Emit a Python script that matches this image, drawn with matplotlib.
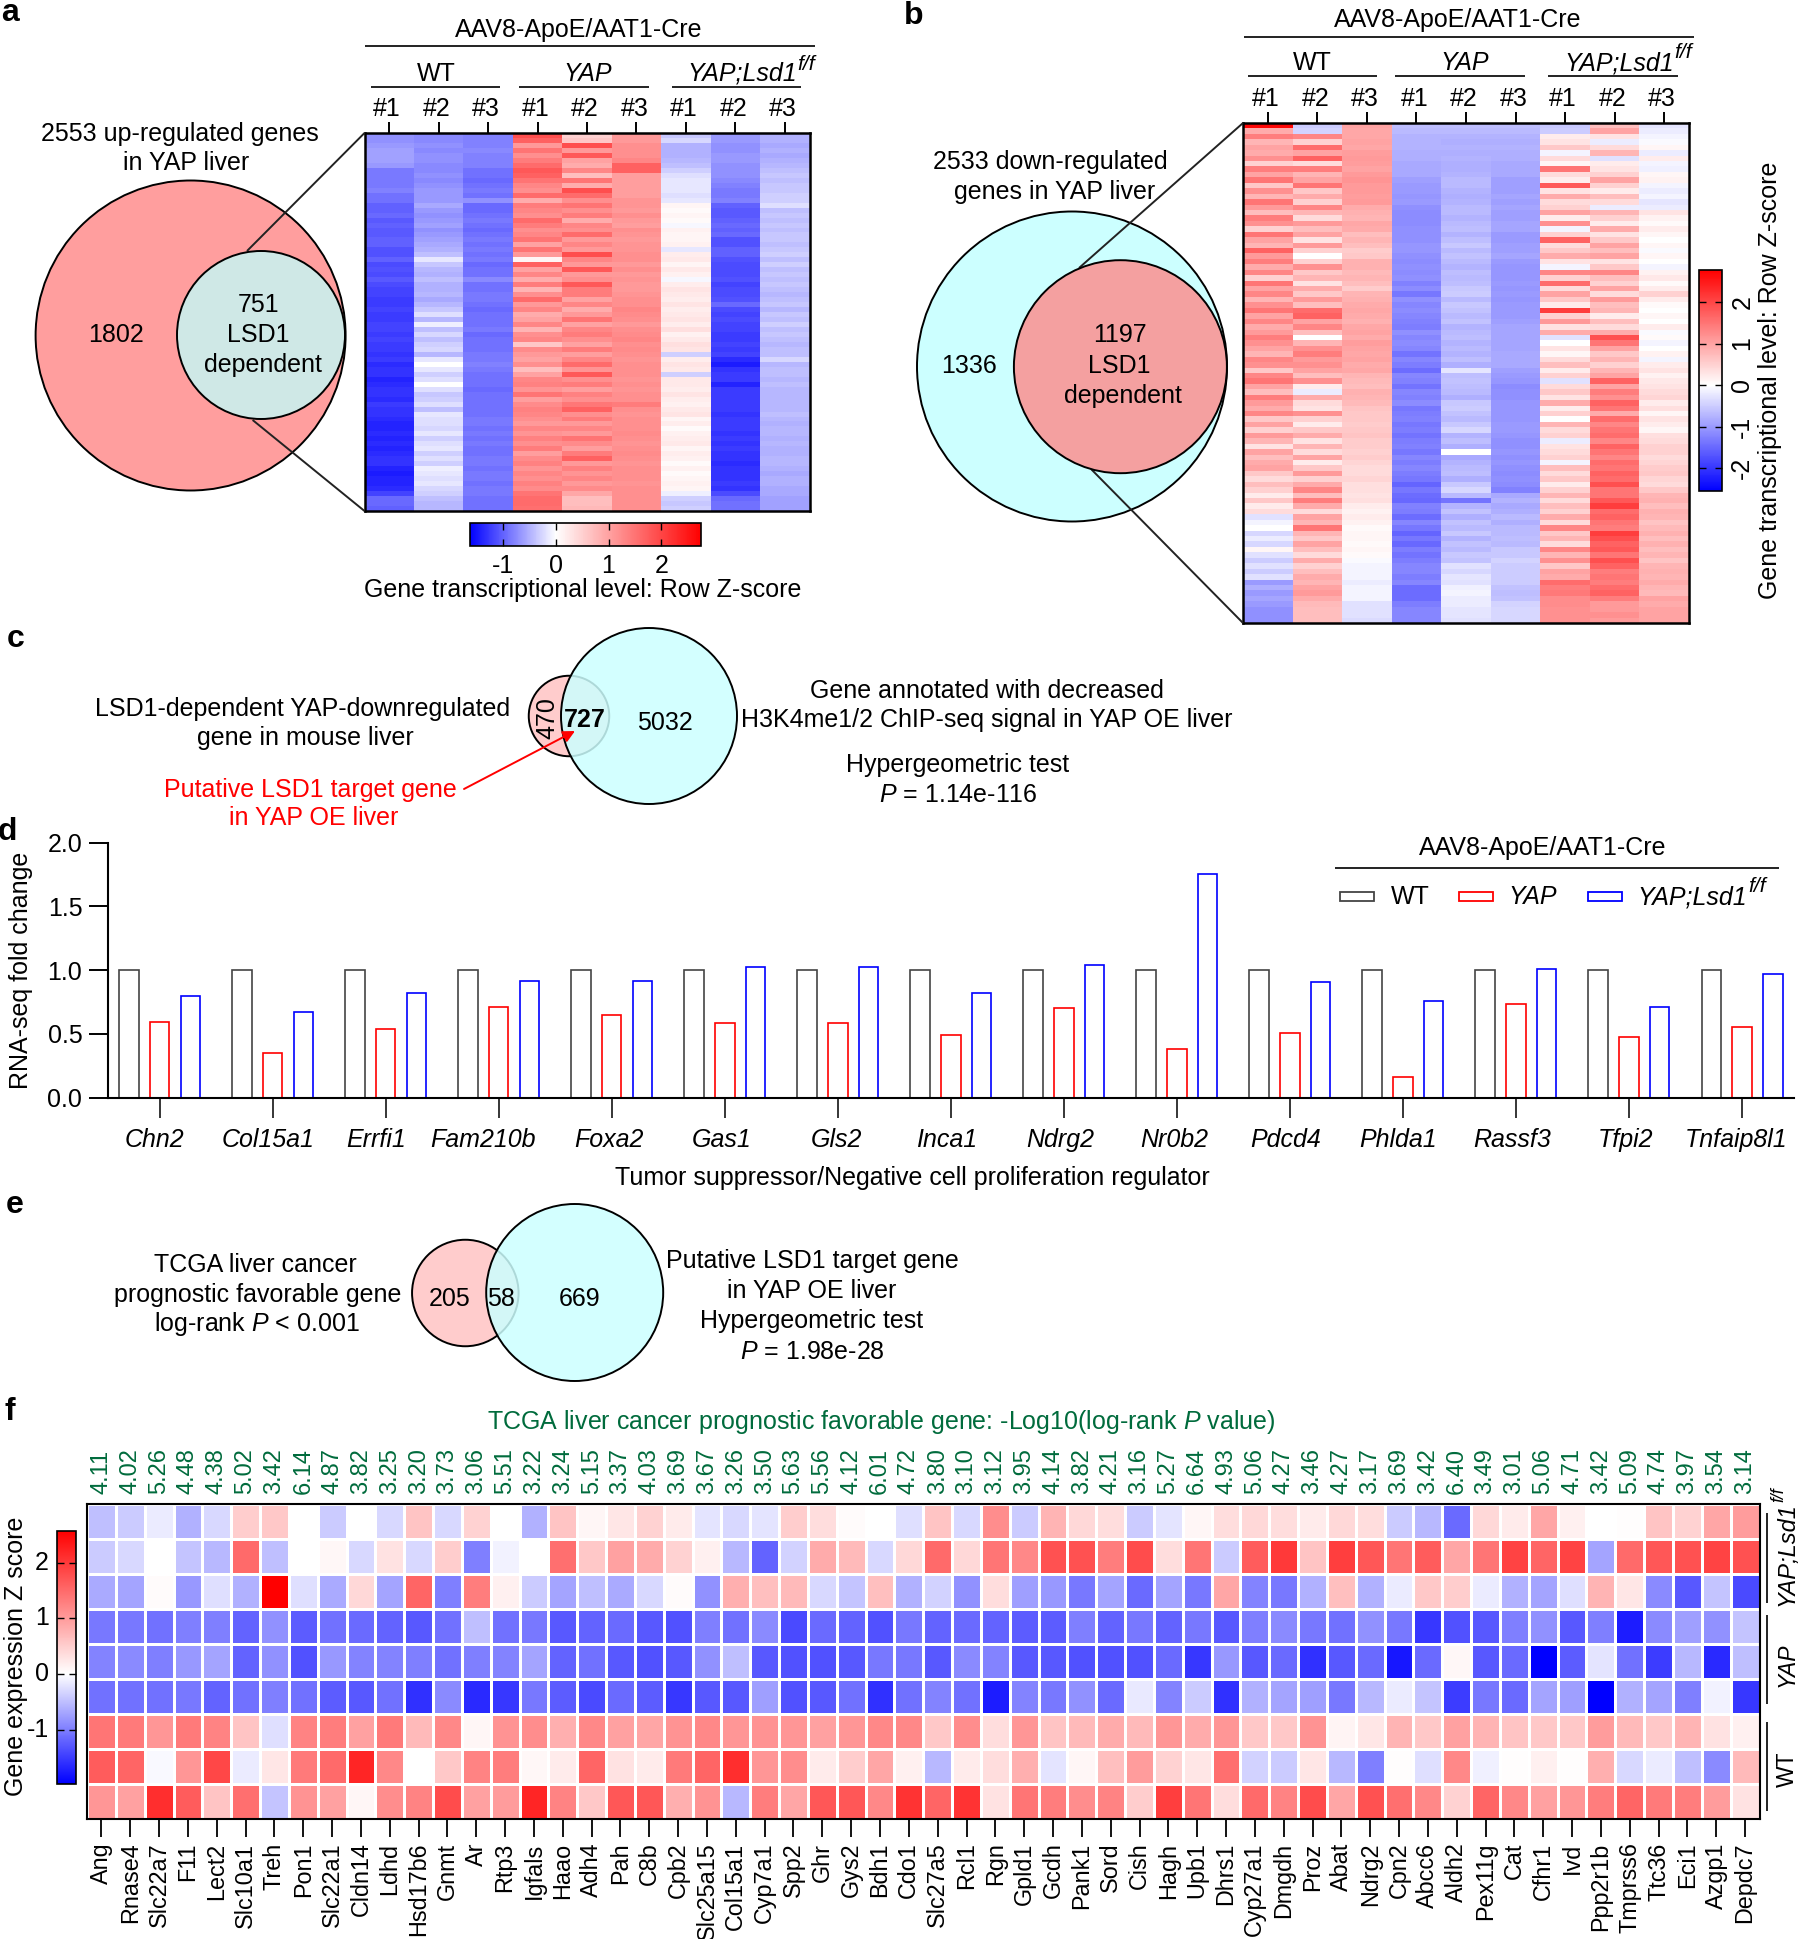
import matplotlib
matplotlib.use("Agg")
import numpy as np
import matplotlib.pyplot as plt
from matplotlib.colors import LinearSegmentedColormap, Normalize
from matplotlib.cm import ScalarMappable
from matplotlib.patches import Circle, Rectangle
from matplotlib.transforms import ScaledTranslation

plt.rcParams['font.family'] = ['Liberation Sans', 'DejaVu Sans']
plt.rcParams['mathtext.fontset'] = 'custom'
plt.rcParams['mathtext.rm'] = 'Liberation Sans'
plt.rcParams['mathtext.it'] = 'Liberation Sans:italic'
plt.rcParams['mathtext.bf'] = 'Liberation Sans:bold'
plt.rcParams['axes.unicode_minus'] = False

# ---------- data ----------
sample_labels = ['#1', '#2', '#3'] * 3

heat_a = [
 [-.7,-.75,-.8,1.9,.5,1.1,-.35,-.65,-.5],[-.7,-.75,-.8,1.7,.6,1.1,-.25,-.65,-.5],
 [-.65,-.7,-.8,1.1,1.9,1.2,-.5,-.7,-.55],[-.6,-.75,-.75,1.5,1.1,1.2,-.5,-.7,-.5],
 [-.6,-.7,-.8,1.2,1.8,1.2,-.5,-.65,-.55],[-.6,-.7,-.8,1.4,1.0,1.3,-.45,-.65,-.5],
 [-.65,-.75,-.8,1.6,.9,1.7,-.4,-.7,-.45],[-.85,-.75,-.9,1.8,1.3,1.7,-.3,-.7,-.4],
 [-.85,-.7,-.9,1.7,.7,1.05,-.2,-.7,-.35],[-.85,-.75,-.95,1.5,1.5,1.05,-.15,-.75,-.4],
 [-.85,-.7,-.9,1.3,.9,1.05,-.15,-.8,-.35],[-.8,-.65,-.85,1.2,1.9,1.05,-.15,-.85,-.35],
 [-.9,-.65,-.9,1.6,1.6,1.05,-.2,-.85,-.3],[-.9,-.65,-.7,.9,1.2,1.15,-.15,-.8,-.3],
 [-1.0,-.55,-.95,1.4,1.5,1.15,.1,-1.,-.2],[-1.0,-.65,-.95,1.3,1.2,1.1,.05,-1.05,-.4],
 [-.95,-.7,-.9,1.2,1.4,1.2,.1,-1.05,-.35],[-1.05,-.65,-.85,1.6,.9,1.1,.05,-1.0,-.4],
 [-1.0,-.6,-.9,1.4,1.3,1.05,-.05,-.95,-.35],[-1.05,-.7,-.95,1.2,1.2,1.2,.15,-1.0,-.4],
 [-1.05,-.65,-.9,1.3,1.6,1.15,.1,-.95,-.35],[-1.0,-.6,-.85,1.5,1.1,1.1,.1,-1.1,-.35],
 [-1.0,-.55,-.9,1.0,1.3,1.15,.15,-1.1,-.4],[-1.1,-.5,-.85,1.5,1.1,1.15,-.15,-1.0,-.35],
 [-1.1,-.4,-.9,1.1,1.9,1.2,.2,-1.0,-.3],[-1.0,-.15,-.85,.1,1.3,1.2,.25,-1.1,-.4],
 [-1.15,-.35,-.95,1.7,1.1,1.1,.1,-1.15,-.3],[-1.1,-.45,-.9,1.0,1.8,1.2,.25,-1.15,-.4],
 [-1.15,-.5,-.9,1.3,1.1,1.1,.15,-1.15,-.35],[-1.05,-.4,-.75,.9,1.2,1.15,-.05,-1.1,-.4],
 [-1.15,-.5,-.9,1.4,1.8,1.1,.2,-1.2,-.35],[-1.2,-.5,-.9,.8,1.4,1.1,.3,-1.15,-.4],
 [-1.2,-.45,-.85,1.2,1.4,1.15,.25,-1.15,-.45],[-1.25,-.55,-.85,1.6,1.0,1.2,.2,-1.1,-.4],
 [-1.25,-.45,-.9,1.1,1.3,1.2,.3,-.95,-.35],[-1.2,-.35,-.95,1.3,.9,1.3,.2,-1.15,-.45],
 [-1.25,-.2,-.9,.9,1.1,1.25,.25,-1.2,-.35],[-1.25,-.45,-.9,1.0,1.5,1.2,.3,-1.15,-.4],
 [-1.2,-.1,-.9,1.3,1.0,1.1,.2,-1.2,-.3],[-1.2,-.4,-.85,.8,1.3,1.2,.35,-1.2,-.4],
 [-1.25,-.25,-.95,1.2,1.4,1.25,.15,-1.25,-.35],[-1.2,-.4,-.9,1.3,1.2,1.3,.25,-1.25,-.4],
 [-1.25,-.3,-.9,.6,1.0,1.2,.35,-1.2,-.45],[-1.25,-.25,-.9,1.25,1.4,1.25,.3,-1.25,-.4],
 [-1.3,-.45,-.85,1.1,1.05,1.2,-.3,-1.2,-.4],[-1.25,-.15,-.85,1.0,1.3,1.15,.2,-1.35,-.25],
 [-1.35,.0,-.8,1.2,1.6,1.2,.3,-1.45,-.45],[-1.3,-.15,-.85,.7,1.15,1.2,.25,-1.3,-.4],
 [-1.3,-.3,-.9,1.0,1.8,1.2,-.3,-1.25,-.4],[-1.4,-.2,-.9,1.3,1.2,1.15,.25,-1.25,-.45],
 [-1.35,.0,-.9,1.35,1.4,1.2,.25,-1.4,-.4],[-1.3,-.2,-.95,1.15,1.05,1.15,.2,-1.25,-.45],
 [-1.3,-.35,-.9,1.5,1.35,1.2,.3,-1.25,-.45],[-1.35,-.3,-.9,1.05,1.2,1.2,.2,-1.25,-.45],
 [-1.25,-.2,-.9,1.25,1.45,1.4,.15,-1.25,-.45],[-1.3,-.4,-.9,1.35,1.7,1.2,.25,-1.25,-.45],
 [-1.3,-.15,-.9,1.3,1.2,1.15,.3,-1.3,-.4],[-1.35,-.2,-.85,1.2,1.4,1.2,.1,-1.25,-.45],
 [-1.4,-.2,-.85,1.1,1.1,1.2,.2,-1.25,-.5],[-1.4,-.25,-.9,1.3,1.3,1.2,.05,-1.25,-.45],
 [-1.35,-.15,-.85,1.15,1.1,1.25,.15,-1.3,-.45],[-1.4,-.3,-.9,1.35,1.5,1.2,.2,-1.25,-.5],
 [-1.35,-.2,-.85,1.2,1.25,1.15,.25,-1.3,-.45],[-1.4,-.15,-.9,1.4,1.05,1.2,.1,-1.25,-.5],
 [-1.35,-.3,-.9,1.05,1.4,1.25,.2,-1.3,-.5],[-1.3,-.2,-.85,1.25,1.7,1.2,.15,-1.3,-.45],
 [-1.3,-.3,-.85,1.35,1.1,1.15,.05,-1.35,-.45],[-1.4,-.1,-.9,1.15,1.35,1.2,.15,-1.3,-.5],
 [-1.45,-.15,-.85,1.3,1.15,1.2,.05,-1.3,-.55],[-1.4,-.2,-.85,1.2,1.3,1.2,.1,-1.3,-.5],
 [-1.4,-.15,-.9,1.35,1.1,1.15,.15,-1.25,-.5],[-1.35,-.25,-.85,1.25,1.25,1.2,.1,-1.3,-.55],
 [-1.2,-.3,-.85,1.5,.95,1.2,-.1,-1.15,-.55],[-.95,-.4,-.9,1.6,.7,1.2,-.3,-.95,-.6],
 [-.95,-.45,-.9,1.6,.7,1.2,-.35,-.9,-.6],[-1.0,-.45,-.9,1.55,.75,1.2,-.3,-.9,-.6],
]

heat_b = [
 [2.7,-.5,1.0,-.65,-.65,-.65,-.55,.7,-.25],[.9,-.45,.95,-.7,-.7,-.7,-.5,1.0,-.2],
 [1.4,1.3,.95,-.75,-.75,-.75,.2,.3,-.1],[.8,.5,1.0,-.75,-.8,-.8,.3,-.2,-.05],
 [1.0,1.6,.95,-.75,-.75,-.75,.6,.4,.1],[.9,1.0,1.05,-.8,-.8,-.8,-.1,.8,-.2],
 [1.2,1.7,1.1,-.8,-.75,-.8,.4,-.3,.2],[.5,.4,1.05,-.85,-.8,-.85,.1,.2,-.1],
 [1.4,1.4,1.0,-.85,-.8,-.85,1.5,.3,-.15],[1.0,.8,1.1,-.85,-.75,-.85,.4,.5,.1],
 [1.5,1.0,1.15,-.95,-.7,-.95,.2,1.0,.15],[.6,1.5,1.1,-1.,-.7,-.95,1.8,.5,-.1],
 [1.2,.6,1.1,-1.,-.75,-.95,.3,.2,-.2],[.8,.9,1.05,-1.05,-.8,-.9,.9,.7,-.1],
 [1.5,.5,1.1,-1.0,-.75,-.95,.4,.4,-.25],[1.1,1.3,.9,-1.1,-.7,-.9,.5,-.2,-.2],
 [.7,.8,.85,-1.15,-.7,-.95,1.0,.8,.3],[1.4,.4,.8,-1.15,-.75,-.95,.2,.5,.15],
 [1.2,1.1,.95,-1.15,-.7,-.9,1.2,.2,.05],[.5,.7,.9,-1.1,-.65,-.9,-.1,.9,.2],
 [1.5,1.0,.7,-1.1,-.75,-1.,.5,.3,.1],[1.0,.3,.8,-1.1,-.65,-1.,1.7,.6,0.],
 [.8,1.1,.7,-1.05,-.55,-.95,.4,1.0,.1],[1.7,.5,.55,-1.05,-.7,-.95,.6,.7,-.05],
 [1.1,.0,.6,-1.1,-.6,-.9,.9,1.0,.1],[1.4,.5,.85,-1.15,-.7,-1.,.3,.3,.0],
 [.9,1.2,.85,-1.1,-.75,-1.05,-.1,.6,-.1],[1.3,.6,.75,-1.15,-.65,-1.05,1.3,1.3,.15],
 [.5,.8,.8,-1.1,-.7,-1.05,.5,.7,.25],[1.5,.3,.7,-1.25,-.65,-1.,1.6,.5,.05],
 [1.0,.9,.55,-1.15,-.55,-1.05,.4,1.0,.2],[1.3,.6,.8,-1.35,-.5,-1.,1.0,.4,.5],
 [.8,1.1,.85,-1.1,-.7,-1.05,.6,1.1,.2],[1.2,.7,.9,-1.2,-.55,-1.,.2,.7,.05],
 [1.5,1.6,.95,-1.15,-.6,-1.,2.1,.8,.0],[1.0,1.7,.9,-1.2,-.7,-1.,.5,.2,.1],
 [1.3,1.0,.85,-1.25,-.6,-.95,1.1,.7,.0],[.9,1.3,.95,-1.3,-.75,-.9,.3,.4,.2],
 [1.1,.7,1.0,-1.1,-.7,-.9,.9,.9,-.05],[1.4,.0,.9,-1.2,-.65,-.9,-.3,1.9,.05],
 [1.2,.8,1.05,-1.15,-.75,-.9,.0,1.5,-.1],[1.0,1.2,1.0,-1.2,-.7,-.9,.3,1.0,.0],
 [.8,1.4,.95,-1.4,-.75,-.85,.1,.6,.15],[1.3,1.1,1.0,-1.2,-.65,-.85,.4,.8,-.1],
 [1.2,1.2,.9,-1.3,-.8,-.85,.7,.5,.2],[.6,1.0,.95,-1.45,-.25,-.95,.2,.8,.3],
 [1.3,.7,.8,-1.2,-.65,-1.,.5,1.0,.15],[1.5,1.2,.75,-1.25,-.6,-1.05,-.3,1.7,.25],
 [1.0,.2,.7,-1.4,-.65,-1.15,.4,1.0,.3],[.7,-.2,.85,-1.2,-.7,-1.1,.6,1.4,.4],
 [1.4,.9,.8,-1.25,-.8,-1.1,.3,1.2,.45],[1.1,.4,.75,-1.15,-.55,-1.05,.9,1.7,.2],
 [.9,.3,.65,-1.35,-.5,-1.05,.2,1.5,.35],[1.3,1.2,.6,-1.3,-.6,-1.05,.5,.9,.1],
 [.6,.5,.6,-1.25,-.7,-1.05,.0,1.6,.3],[1.0,.2,.55,-1.35,-.55,-1.0,.8,1.3,.2],
 [.5,.6,.6,-1.3,-.4,-1.0,.4,1.5,.1],[1.1,.9,.65,-1.4,-.75,-1.05,.5,1.6,.35],
 [.8,.3,.55,-1.3,-.65,-1.1,-.2,1.3,.4],[.3,.8,.55,-1.25,-.8,-1.1,.3,1.7,.5],
 [1.0,.4,.5,-1.35,.0,-1.05,.4,1.5,.5],[.7,1.0,.55,-1.2,-.85,-1.1,.5,1.3,.4],
 [.9,.2,.45,-1.3,-.75,-1.05,-.1,1.6,.45],[1.0,.6,.4,-1.2,-.7,-1.1,.7,1.5,.55],
 [.6,1.1,.4,-1.3,-.65,-1.15,.4,1.7,.6],[.4,.5,.45,-1.35,-.8,-1.1,.6,1.6,.45],
 [.7,.9,.35,-1.55,-.55,-1.15,.2,1.9,.4],[.5,1.3,.35,-1.35,-.4,-1.25,.5,1.5,.6],
 [.2,.7,.3,-1.45,-.7,-.85,.8,1.5,.8],[.6,1.4,.35,-1.5,-1.4,-.75,.4,1.8,.85],
 [.2,.9,.2,-1.25,-.75,-.85,.7,2.1,.7],[.4,.4,.15,-1.3,-.6,-.8,.5,1.6,.85],
 [-.3,1.0,.2,-1.45,-.8,-.7,.9,1.7,.8],[-.1,.8,.15,-1.2,-.6,-.8,.4,1.5,.65],
 [.0,1.5,.05,-1.35,-.7,-.7,1.3,1.4,.75],[-.4,.8,.1,-1.55,-.55,-.7,.6,2.1,.85],
 [-.2,.6,.1,-1.35,-.75,-.65,.8,1.9,.7],[-.4,1.0,.05,-1.5,-.6,-.7,.4,1.7,.85],
 [.1,.7,.1,-1.3,-.7,-.55,1.3,1.8,.7],[-.3,.4,.05,-1.4,-.55,-.55,.8,1.5,.8],
 [-.5,.9,-.05,-1.3,-.6,-.45,1.2,1.9,.65],[-.3,.5,-.1,-1.2,-.3,-.5,.6,1.7,.8],
 [-.5,.7,-.1,-1.2,-.4,-.5,1.0,1.4,.85],[-.3,.9,-.1,-1.3,-.25,-.5,.9,1.5,.8],
 [-1.0,.8,-.2,-1.2,-.3,-.5,1.6,1.4,.9],[-.8,1.0,-.1,-1.45,-.15,-.6,1.4,1.6,.8],
 [-1.0,1.1,-.1,-1.45,-.1,-.65,1.45,1.7,.75],[-.9,.9,-.1,-1.45,-.2,-.6,1.25,1.4,1.0],
 [-1.0,.75,-.3,-1.3,-.2,-.45,1.25,1.1,.9],[-1.1,.7,-.3,-1.2,-.25,-.4,1.2,1.1,1.0],
 [-1.1,.7,-.3,-1.2,-.25,-.4,1.2,1.2,1.0],[-1.1,.7,-.35,-1.2,-.3,-.4,1.2,1.1,1.0],
]

bar_genes = ['Chn2','Col15a1','Errfi1','Fam210b','Foxa2','Gas1','Gls2','Inca1','Ndrg2','Nr0b2',
             'Pdcd4','Phlda1','Rassf3','Tfpi2','Tnfaip8l1']
bar_wt = [1.0]*15
bar_yap = [.596,.348,.536,.711,.651,.588,.583,.494,.706,.379,.51,.16,.732,.478,.557]
bar_lsd1 = [.797,.672,.824,.915,.918,1.027,1.027,.821,1.038,1.757,.91,.758,1.009,.711,.973]

genes_f = ['Ang','Rnase4','Slc22a7','F11','Lect2','Slc10a1','Treh','Pon1','Slc22a1','Cldn14','Ldhd','Hsd17b6',
 'Gnmt','Ar','Rtp3','Igfals','Haao','Adh4','Pah','C8b','Cpb2','Slc25a15','Col15a1','Cyp7a1','Spp2','Ghr','Gys2',
 'Bdh1','Cdo1','Slc27a5','Rcl1','Rgn','Gpld1','Gcdh','Pank1','Sord','Cish','Hagh','Upb1','Dhrs1','Cyp27a1',
 'Dmgdh','Proz','Abat','Ndrg2','Cpn2','Abcc6','Aldh2','Pex11g','Cat','Cfhr1','Ivd','Ppp2r1b','Tmprss6','Ttc36',
 'Eci1','Azgp1','Depdc7']
logp_f = ['4.11','4.02','5.26','4.48','4.38','5.02','3.42','6.14','4.87','3.82','3.25','3.20','3.73','3.06','5.51',
 '3.22','3.24','5.15','3.37','4.03','3.69','3.67','3.26','3.50','5.63','5.56','4.12','6.01','4.72','3.80','3.10',
 '3.12','3.95','4.14','3.82','4.21','3.16','5.27','6.64','4.93','5.06','4.27','3.46','4.27','3.17','3.69','3.42',
 '6.40','3.49','3.01','5.06','4.71','3.42','5.09','4.74','3.97','3.54','3.14']

f_lsd1_1 = [-.5,-.4,-.15,-.6,-.3,.5,.55,0,-.4,0,-.3,.6,-.3,.45,0,-.6,.6,.1,.25,.45,.2,-.2,-.3,-.2,.5,.35,.05,.01,-.25,.6,
 -.3,1.15,-.4,.75,.4,.35,-.4,-.2,.1,.35,.4,.35,.2,.4,.35,-.4,-.55,-1.15,.4,.2,.9,.15,0,.02,.6,.45,.9,1.0]
f_lsd1_2 = [-.4,-.3,0,-.45,-.55,1.5,-.5,0,.08,-.3,.3,-.3,.5,-1.0,-.1,0,1.45,.55,.95,.85,.45,.15,-.55,-1.2,-.35,.85,.7,-.3,
 .4,1.5,.4,1.4,1.2,1.75,1.75,1.3,1.8,.35,1.4,-.4,1.65,2.0,.6,1.95,1.7,1.4,1.65,.9,1.4,1.9,1.55,1.9,-.7,1.5,1.7,1.75,1.9,1.75]
f_lsd1_3 = [-.65,-.7,.05,-.8,-.25,-.6,2.58,-.25,-.65,.4,-.7,1.55,-1.0,1.3,.15,-.4,-.7,-.5,-.65,-.3,.05,-.85,.8,.65,.7,-.3,
 -.45,.65,-.6,-.35,-.85,.35,-.75,-.8,-1.05,-.7,-1.15,-.7,-1.05,.9,-.95,-1.05,-.6,.65,-.6,-.15,.55,.5,-.15,-.6,-.7,-.25,.75,.25,-.9,-1.3,-.45,-1.4]
f_yap_1 = [-1.05,-1.05,-1.1,-1.0,-1.0,-1.2,-.85,-1.25,-1.1,-1.15,-1.2,-1.3,-1.1,-.5,-1.1,-1.05,-1.3,-1.2,-1.15,-1.3,-1.35,-1.0,
 -1.1,-.9,-1.4,-1.15,-1.2,-1.35,-1.05,-1.2,-1.15,-1.2,-1.25,-1.25,-1.0,-1.2,-1.05,-1.2,-1.05,-1.3,-1.0,-.9,-1.05,-1.1,-.85,-1.05,
 -1.55,-1.35,-1.3,-1.0,-.85,-1.3,-1.0,-1.75,-.9,-.75,-.85,-.45]
f_yap_2 = [-.95,-.9,-1.0,-.8,-.7,-1.2,-.85,-1.35,-.8,-.95,-.95,-1.0,-1.1,-1.0,-.95,-.7,-1.2,-1.1,-1.3,-1.35,-1.3,-.85,-.5,-1.3,
 -1.35,-1.35,-1.3,-1.05,-1.05,-1.3,-.9,-.95,-1.3,-1.3,-1.35,-1.35,-1.35,-1.15,-1.55,-.8,-1.3,-1.15,-1.6,-1.3,-1.15,-1.8,-1.15,.07,
 -1.3,-1.15,-1.98,-1.25,-.2,-1.1,-1.5,-.55,-1.65,-.5]
f_yap_3 = [-1.1,-1.1,-1.1,-1.05,-1.2,-1.1,-1.0,-1.1,-1.25,-1.3,-1.1,-1.6,-.9,-1.65,-1.55,-1.05,-1.25,-1.4,-1.15,-1.25,-1.55,-1.3,
 -1.3,-.75,-1.35,-1.3,-1.1,-1.6,-1.1,-.95,-1.1,-1.75,-.95,-1.05,-.85,-1.15,-.17,-.95,-.4,-1.6,-.6,-.7,-.75,-1.05,-.55,-.15,-.45,-1.5,
 -1.05,-1.15,-.7,-.75,-1.98,-.6,-.7,-1.0,-.1,-1.55]
f_wt_1 = [1.4,1.35,1.05,1.35,1.25,.6,-.25,1.25,1.3,.95,1.35,.7,1.2,.1,1.1,1.15,.8,1.2,.95,.9,1.1,1.2,1.05,1.1,1.05,.95,1.05,1.2,
 1.2,.55,1.15,.35,1.05,.6,.7,.85,.7,1.05,.85,1.05,.55,.55,1.1,.12,.25,.75,.55,.95,.75,.6,.55,.55,1.0,.7,.55,.75,.3,.15]
f_wt_2 = [1.65,1.55,-.05,1.05,1.85,-.15,.25,1.35,1.5,2.2,1.2,0,.55,1.25,1.3,.08,.2,1.55,.3,.2,1.35,1.55,2.1,1.05,1.15,.2,.5,.9,.15,
 -.55,.2,.35,.8,-.2,.1,.65,1.0,.45,.25,1.45,-.35,-.4,.25,-.55,-1.0,.02,-.25,1.2,-.12,.02,.15,.03,.8,-.3,-.15,-.5,-.9,.7]
f_wt_3 = [1.05,.95,2.1,1.65,.6,1.45,-.45,1.1,.95,.1,1.15,1.25,1.8,.95,1.0,2.2,1.25,.55,1.7,1.7,.8,1.1,-.55,1.3,.9,1.7,1.7,1.2,2.05,
 1.55,2.05,.3,1.4,1.3,1.15,1.25,.5,1.95,1.4,.35,1.5,1.25,1.8,.9,1.75,1.45,1.2,.45,1.55,1.2,.95,1.05,1.3,1.55,1.35,1.3,1.0,.3]
heat_f = [f_lsd1_1, f_lsd1_2, f_lsd1_3, f_yap_1, f_yap_2, f_yap_3, f_wt_1, f_wt_2, f_wt_3]

# ---------- helpers ----------
W, H = 1800, 1939
fig = plt.figure(figsize=(W/100, H/100), dpi=100, facecolor='white')
rend = fig.canvas.get_renderer()
FS = 18

def axpx(x0, y0, x1, y1, **kw):
    return fig.add_axes([x0/W, 1-y1/H, (x1-x0)/W, (y1-y0)/H], **kw)

def diverging(vmin, vmax):
    frac = -vmin/(vmax-vmin)
    return LinearSegmentedColormap.from_list('d', [(0, '#0000ff'), (frac, '#ffffff'), (1, '#ff0000')]), Normalize(vmin, vmax)

ov = fig.add_axes([0, 0, 1, 1], zorder=10)
ov.set_xlim(0, W); ov.set_ylim(H, 0); ov.axis('off'); ov.patch.set_alpha(0)

def T(x, y, s, size=FS, ha='center', va='center', **kw):
    if kw.get('rotation') == 90:
        x += 3
    else:
        y += 2
    return ov.text(x, y, s, fontsize=size, ha=ha, va=va, **kw)

def L(x0, y0, x1, y1, lw=1.4, color='#222222'):
    ov.plot([x0, x1], [y0, y1], color=color, lw=lw, solid_capstyle='butt')

def sup_label(x, y, rot=0, size=FS):
    """YAP;Lsd1 in italics followed by a raised f/f."""
    if rot == 0:
        y += 2
        t = ov.text(x, y, 'YAP;Lsd1', fontsize=size, style='italic', ha='left', va='center')
        e = t.get_window_extent(rend)
        ov.text(e.x1+1, y-10, 'f/f', fontsize=size*.85, style='italic', ha='left', va='center')
    else:
        t = ov.text(x, y, 'YAP;Lsd1', fontsize=size, style='italic', ha='center', va='bottom', rotation=90)
        e = t.get_window_extent(rend)
        ov.text(x-8, H-e.y1, 'f/f', fontsize=size*.75, style='italic', ha='center', va='bottom', rotation=90)

def circle(cx, cy, d, fc, ec='black', lw=1.4, z=2):
    ov.add_patch(Circle((cx, cy), d/2, facecolor=fc, edgecolor=ec, lw=lw, zorder=z))

def heat_panel(box, data, vmin, vmax):
    x0, y0, x1, y1 = box
    cmap, norm = diverging(vmin, vmax)
    ax = axpx(x0, y0, x1, y1)
    arr = np.array(data, dtype=float)
    ax.pcolormesh(np.arange(arr.shape[1]+1), np.arange(arr.shape[0]+1), arr, cmap=cmap, norm=norm)
    ax.invert_yaxis()
    ax.xaxis.tick_top()
    ax.set_xticks(np.arange(9)+.5)
    ax.set_xticklabels(sample_labels, fontsize=FS)
    ax.set_yticks([])
    ax.tick_params(axis='x', length=8, width=1.4, pad=0.5)
    shift = ScaledTranslation(-2/100, 0, fig.dpi_scale_trans)
    for lb in ax.get_xticklabels():
        lb.set_transform(lb.get_transform()+shift)
    for s in ax.spines.values():
        s.set_linewidth(1.8)
    return cmap, norm

def cbar(box, cmap, norm, ticks, orient, side, rot=0):
    cax = axpx(*box)
    cb = fig.colorbar(ScalarMappable(norm=norm, cmap=cmap), cax=cax, orientation=orient, ticks=ticks)
    cb.outline.set_linewidth(1.2)
    cb.set_ticklabels([str(t) for t in ticks])
    if orient == 'horizontal':
        cax.tick_params(axis='x', direction='in', length=5, width=1, top=True, bottom=True, labelsize=FS, pad=6)
    else:
        cax.yaxis.set_ticks_position(side)
        cax.tick_params(axis='y', direction='in', length=5, width=1, left=True, right=True, labelsize=FS, pad=6)
        if side == 'right':
            cax.tick_params(axis='y', labelright=True, labelleft=False)
        else:
            cax.tick_params(axis='y', labelright=False, labelleft=True)
        for lb in cax.get_yticklabels():
            lb.set_rotation(rot)
            lb.set_va('center')
    return cax

# ---------- panel letters ----------
for s, x, y in [('a', 10, 11), ('b', 914, 14), ('c', 16, 637), ('d', 7, 830), ('e', 15, 1203), ('f', 10, 1410)]:
    T(x, y, s, size=23, weight='bold')

# ---------- panel a ----------
cm_a, nm_a = heat_panel((364.5, 133, 809.5, 511), heat_a, -1.63, 2.75)
cbar((469.6, 522.5, 701, 546), cm_a, nm_a, [-1, 0, 1, 2], 'horizontal', 'bottom')
circle(190.6, 335.5, 310, '#FF9E9E')
circle(261, 335, 168, '#CFE8E6', z=3)
L(247, 251, 364.5, 133); L(252.6, 420, 364.5, 511)
T(579, 27.5, 'AAV8-ApoE/AAT1-Cre')
L(365, 46, 815, 46)
L(371, 87, 500, 87); L(519, 87, 649, 87); L(672, 87, 801, 87)
T(436, 72, 'WT'); T(588, 72, 'YAP', style='italic'); sup_label(687, 72)
T(180, 132, '2553 up-regulated genes'); T(186.5, 161, 'in YAP liver')
T(116.5, 333, '1802'); T(259, 303, '751', zorder=5); T(258, 333, 'LSD1', zorder=5); T(263, 363, 'dependent', zorder=5)
T(583, 588, 'Gene transcriptional level: Row Z-score')

# ---------- panel b ----------
cm_b, nm_b = heat_panel((1243, 123, 1689, 623), heat_b, -2.55, 2.77)
cbar((1698.5, 270, 1722, 491), cm_b, nm_b, [-2, -1, 0, 1, 2], 'vertical', 'right', rot=90)
circle(1072, 366.5, 310, '#CCFFFF')
circle(1120.4, 366.7, 213, '#F4A0A0', z=3)
L(1079, 268, 1243, 123); L(1091, 469, 1243, 623)
T(1458, 18, 'AAV8-ApoE/AAT1-Cre')
L(1244, 36.7, 1694, 36.7)
L(1248, 76, 1377, 76); L(1395, 76, 1525, 76); L(1548, 76, 1678, 76)
T(1312, 61, 'WT'); T(1465, 61, 'YAP', style='italic'); sup_label(1564, 61)
T(1050, 160, '2533 down-regulated'); T(1055, 190, 'genes in YAP liver')
T(969, 364, '1336'); T(1120, 333.5, '1197', zorder=5); T(1119, 364, 'LSD1', zorder=5); T(1123, 394, 'dependent', zorder=5)
T(1767, 380, 'Gene transcriptional level: Row Z-score', rotation=90)

# ---------- panel c ----------
circle(569, 716, 80.5, '#FFCCCC')
circle(649, 716, 176, (0.8, 1, 1, 0.85), z=3)
T(302.5, 707, 'LSD1-dependent YAP-downregulated'); T(305, 736.5, 'gene in mouse liver')
T(544, 718, '470', rotation=90, zorder=5); T(585, 718, '727', weight='bold', zorder=5); T(665, 721, '5032', zorder=5)
T(987, 689, 'Gene annotated with decreased'); T(987, 718, 'H3K4me1/2 ChIP-seq signal in YAP OE liver')
T(958, 763, 'Hypergeometric test'); T(958, 793, r'$\mathit{P}$ = 1.14e-116')
T(310, 788, 'Putative LSD1 target gene', color='#ff0000'); T(314, 816, 'in YAP OE liver', color='#ff0000')
ov.annotate('', xy=(575, 731), xytext=(464, 789), zorder=6,
            arrowprops=dict(arrowstyle='-|>,head_width=0.35,head_length=0.7', color='#ff0000', lw=1.4, shrinkA=0, shrinkB=0))

# ---------- panel d ----------
axd = axpx(108, 842.7, 1794, 1097.7)
xpos = np.arange(len(bar_genes))
axd.set_xlim(-.4566, 14.46); axd.set_ylim(0, 2)
for off, vals, col in [(-.272, bar_wt, '#444444'), (0, bar_yap, '#ff0000'), (.272, bar_lsd1, '#0000ff')]:
    axd.bar(xpos+off, vals, width=.1726, facecolor='white', edgecolor=col, linewidth=1.2)
for s in ['top', 'right']:
    axd.spines[s].set_visible(False)
for s in ['left', 'bottom']:
    axd.spines[s].set_linewidth(1.5)
axd.set_yticks([0, .5, 1, 1.5, 2]); axd.set_yticklabels(['0.0', '0.5', '1.0', '1.5', '2.0'], fontsize=FS)
axd.tick_params(axis='y', length=13.5, width=1.4, pad=5)
axd.set_xticks(xpos); axd.set_xticklabels([])
axd.tick_params(axis='x', length=14.5, width=1.1)
bar_label_x = [154, 268, 376, 483, 609, 722, 836, 947, 1060, 1174, 1286, 1398, 1512.5, 1626, 1736]
for gx, g in zip(bar_label_x, bar_genes):
    T(gx, 1138, g, style='italic')
T(18, 970, 'RNA-seq fold change', rotation=90)
T(912, 1175.5, 'Tumor suppressor/Negative cell proliferation regulator')
T(1543, 846.5, 'AAV8-ApoE/AAT1-Cre')
L(1334.6, 867.7, 1779.4, 867.7)
for x0, c in [(1339.7, '#444444'), (1458.5, '#ff0000'), (1587.7, '#0000ff')]:
    ov.add_patch(Rectangle((x0, 892), 34.4, 9, facecolor='white', edgecolor=c, lw=1.3))
T(1391, 895, 'WT', ha='left'); T(1508.5, 895, 'YAP', ha='left', style='italic'); sup_label(1637.7, 895)

# ---------- panel e ----------
circle(465.3, 1293, 106.5, '#FFCCCC')
circle(574.7, 1292.5, 177, (0.8, 1, 1, 0.85), z=3)
T(255, 1262.5, 'TCGA liver cancer'); T(258, 1293, 'prognostic favorable gene')
T(256.5, 1321.5, r'log-rank $\mathit{P}$ < 0.001')
T(450, 1297, '205', zorder=5); T(500.5, 1297, '58', zorder=5); T(580, 1297, '669', zorder=5)
T(812, 1259, 'Putative LSD1 target gene'); T(812, 1289, 'in YAP OE liver')
T(812, 1319, 'Hypergeometric test'); T(812, 1350, r'$\mathit{P}$ = 1.98e-28')

# ---------- panel f ----------
cm_f, nm_f = diverging(-1.98, 2.58)
axf = axpx(87, 1503.8, 1759.5, 1819)
arr_f = np.array(heat_f, dtype=float)
axf.pcolormesh(np.arange(arr_f.shape[1]+1), np.arange(arr_f.shape[0]+1), arr_f, cmap=cm_f, norm=nm_f,
               edgecolors='white', linewidth=.8)
axf.invert_yaxis()
xc = np.arange(len(genes_f))+.5
axf.set_xticks(xc)
axf.set_xticklabels(genes_f, rotation=90, fontsize=16.8, va='top', ha='center')
axf.set_yticks([])
axf.tick_params(axis='x', length=13, width=1.3, pad=4)
for s in axf.spines.values():
    s.set_linewidth(1.5)
axf2 = axf.twiny()
axf2.set_xlim(axf.get_xlim())
axf2.set_xticks(xc)
axf2.set_xticklabels(logp_f, rotation=90, fontsize=17, color='#006B3C', va='bottom', ha='center')
axf2.tick_params(axis='x', length=0, pad=7)
for s in axf2.spines.values():
    s.set_visible(False)
cbar((57, 1530.6, 75.5, 1784), cm_f, nm_f, [-1, 0, 1, 2], 'vertical', 'left')
T(881.5, 1420, r'TCGA liver cancer prognostic favorable gene: -Log10(log-rank $\mathit{P}$ value)', color='#006B3C')
T(13, 1656, 'Gene expression Z score', rotation=90)
L(1767.4, 1513, 1767.4, 1602.7); L(1767.4, 1615, 1767.4, 1704); L(1767.4, 1722, 1767.4, 1811)
sup_label(1787, 1606, rot=90, size=17)
T(1784, 1664.5, 'YAP', rotation=90, style='italic', size=16.5)
T(1784, 1769, 'WT', rotation=90, size=16.5)

fig.savefig('out.png', dpi=100)
